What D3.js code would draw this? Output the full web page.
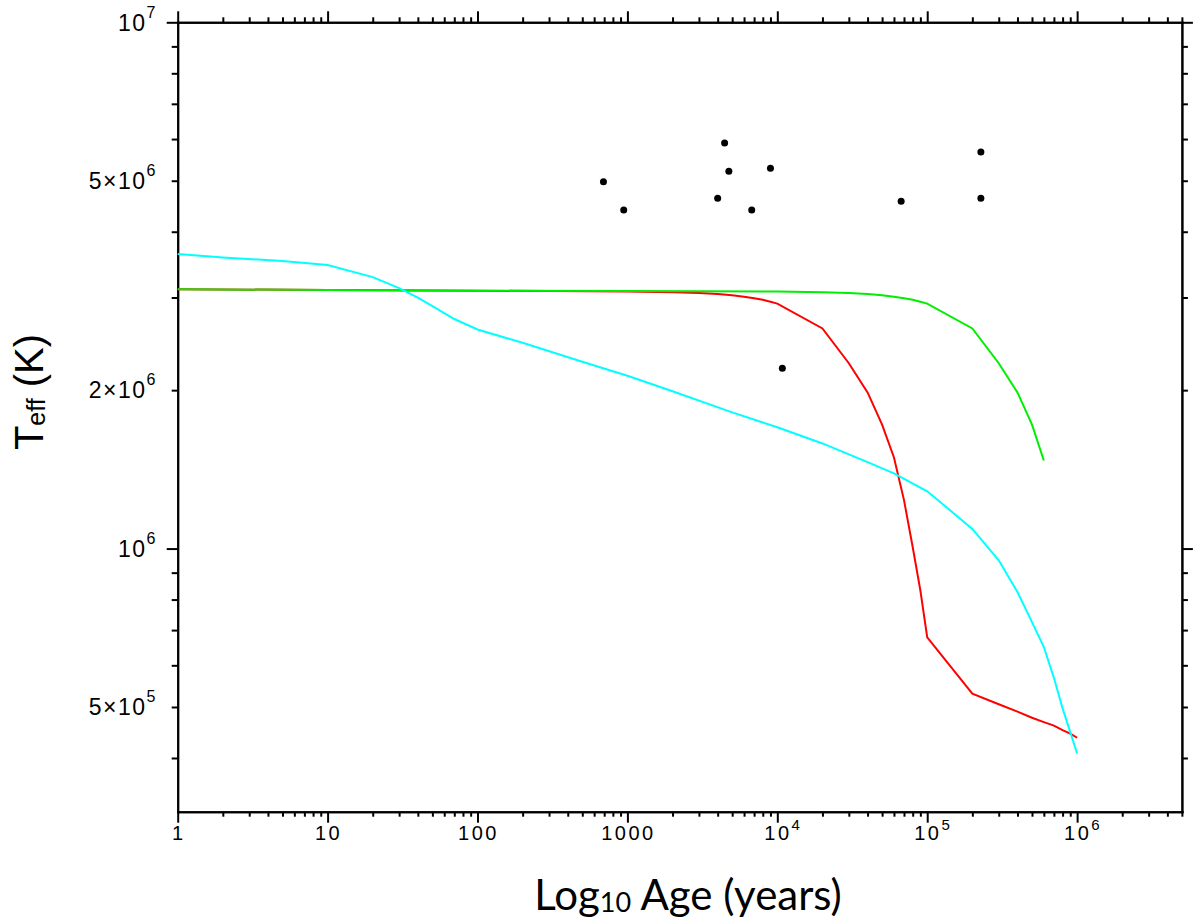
<!DOCTYPE html>
<html>
<head>
<meta charset="utf-8">
<script src="https://cdn.jsdelivr.net/npm/d3@7"></script>
<style>
  body { margin: 0; background: #fff; }
  svg { display: block; }
  .tick-label { font-family: "Liberation Sans", Arial, sans-serif; fill: #000; }
</style>
</head>
<body>
<div id="chart"></div>
<script>
// model curves (age in years, Teff in K)
const redAge  = [1, 10, 100, 1000, 2000, 3000, 4000, 5000, 6000, 7000, 8000, 9000, 1e4,
                 2e4, 3e4, 4e4, 5e4, 6e4, 7e4, 8e4, 9e4, 1e5, 2e5, 3e5, 4e5, 5e5, 6e5, 7e5, 8e5, 9e5, 1e6];
const redTeff = [3.11e6, 3.10e6, 3.09e6, 3.08e6, 3.07e6, 3.06e6, 3.045e6, 3.03e6, 3.01e6, 2.99e6, 2.97e6, 2.945e6, 2.92e6,
                 2.62e6, 2.25e6, 1.98e6, 1.72e6, 1.49e6, 1.236e6, 1.007e6, 8.33e5, 6.78e5, 5.30e5, 5.06e5, 4.90e5, 4.77e5, 4.68e5, 4.61e5, 4.52e5, 4.45e5, 4.37e5];

const greenAge  = [1, 10, 100, 1000, 1e4, 2e4, 3e4, 4e4, 5e4, 6e4, 7e4, 8e4, 9e4, 1e5, 2e5, 3e5, 4e5, 5e5, 6e5];
const greenTeff = [3.11e6, 3.10e6, 3.09e6, 3.085e6, 3.08e6, 3.07e6, 3.06e6, 3.045e6, 3.03e6, 3.01e6, 2.99e6, 2.97e6, 2.945e6,
                   2.92e6, 2.62e6, 2.25e6, 1.98e6, 1.72e6, 1.47e6];

const cyanAge  = [1, 2, 5, 10, 20, 30, 40, 50, 70, 100, 200, 500, 1000, 2000, 5000, 1e4, 2e4, 4e4, 6e4,
                  1e5, 2e5, 3e5, 4e5, 5e5, 6e5, 7e5, 8e5, 9e5, 1e6];
const cyanTeff = [3.63e6, 3.574e6, 3.52e6, 3.458e6, 3.28e6, 3.125e6, 2.997e6, 2.89e6, 2.73e6, 2.608e6, 2.46e6, 2.265e6, 2.13e6,
                  1.99e6, 1.815e6, 1.70e6, 1.584e6, 1.46e6, 1.39e6, 1.285e6, 1.09e6, 9.50e5, 8.27e5, 7.25e5, 6.50e5, 5.68e5, 4.97e5, 4.48e5, 4.08e5];

// observed objects
const obsAge  = [692, 945, 4450, 4750, 9000, 4000, 6750, 67000, 2.28e5, 2.28e5, 1.08e4];
const obsTeff = [4.98e6, 4.40e6, 5.90e6, 5.21e6, 5.28e6, 4.63e6, 4.40e6, 4.57e6, 5.67e6, 4.63e6, 2.20e6];

// tick labels
const xTickValues = [1, 10, 100, 1000, 1e4, 1e5, 1e6];
const xTickLabels = ["1", "10", "100", "1000", "10^4", "10^5", "10^6"];
const yTickValues = [5e5, 1e6, 2e6, 5e6, 1e7];
const yTickLabels = ["5×10^5", "10^6", "2×10^6", "5×10^6", "10^7"];

const width = 1194, height = 922;
const margin = { left: 177.7, right: 1181.9, top: 22.3, bottom: 811.7 };

const svg = d3.select('#chart').append('svg')
    .attr('width', width)
    .attr('height', height);

const x = d3.scaleLog().domain([1, 5e6]).range([margin.left, margin.right]);
const y = d3.scaleLog().domain([Math.pow(10, 5.5), 1e7]).range([margin.bottom, margin.top]);

const xMajor = xTickValues;
const xMinor = x.ticks().filter(v => !xMajor.includes(v));
const yMajor = [1e6, 1e7];
const yMinor = y.ticks().filter(v => !yMajor.includes(v));

function styleAxis(g) {
    g.selectAll('path, line').attr('stroke', '#000').attr('stroke-width', 2);
    g.selectAll('text').remove();
    g.select('.domain').attr('stroke-linecap', 'square');
}

// bottom / top
[[d3.axisBottom, margin.bottom], [d3.axisTop, margin.top]].forEach(([ax, pos]) => {
    svg.append('g').attr('transform', `translate(0,${pos})`)
        .call(ax(x).tickValues(xMajor).tickSize(11).tickSizeOuter(0)).call(styleAxis);
    svg.append('g').attr('transform', `translate(0,${pos})`)
        .call(ax(x).tickValues(xMinor).tickSize(5).tickSizeOuter(0)).call(styleAxis);
});
// left / right
[[d3.axisLeft, margin.left], [d3.axisRight, margin.right]].forEach(([ax, pos]) => {
    svg.append('g').attr('transform', `translate(${pos},0)`)
        .call(ax(y).tickValues(yMajor).tickSize(11).tickSizeOuter(0)).call(styleAxis);
    svg.append('g').attr('transform', `translate(${pos},0)`)
        .call(ax(y).tickValues(yMinor).tickSize(6).tickSizeOuter(0)).call(styleAxis);
});

// labels with superscripts
function addLabel(g, str, supSize, supDy) {
    const parts = str.split('^');
    g.append('tspan').text(parts[0]);
    if (parts[1]) {
        g.append('tspan').style('font-size', supSize + 'px').attr('dy', supDy).text(parts[1]);
    }
}

xTickValues.forEach((v, i) => {
    const t = svg.append('text')
        .attr('class', 'tick-label')
        .attr('x', x(v) + (xTickLabels[i].includes('^') ? 6 : 1))
        .attr('y', 840)
        .attr('text-anchor', 'middle')
        .style('font-size', '20px')
        .style('letter-spacing', '2.5px');
    addLabel(t, xTickLabels[i], 15, -10);
});

yTickValues.forEach((v, i) => {
    const t = svg.append('text')
        .attr('class', 'tick-label')
        .attr('x', 157)
        .attr('y', y(v) + 8.3)
        .attr('text-anchor', 'end')
        .style('font-size', '23px')
        .style('letter-spacing', '1.5px');
    addLabel(t, yTickLabels[i], 16, -13);
});

// axis titles
const xt = svg.append('text')
    .attr('x', 688).attr('y', 910)
    .attr('text-anchor', 'middle')
    .style('font-family', 'Lato, "Open Sans", sans-serif')
    .style('font-size', '42px');
xt.append('tspan').text('Log');
xt.append('tspan').style('font-size', '27px').attr('dy', 2).text('10');
xt.append('tspan').attr('dy', -2).text(' Age (years)');

const yt = svg.append('text')
    .attr('transform', 'translate(43,392) rotate(-90)')
    .attr('text-anchor', 'middle')
    .style('font-family', '"Liberation Sans", Arial, sans-serif')
    .style('font-size', '40px');
yt.append('tspan').text('T');
yt.append('tspan').style('font-size', '25px').attr('dy', 2).text('eff');
yt.append('tspan').attr('dy', -2).text(' (K)');

// curves
const line = d3.line().x(d => x(d[0])).y(d => y(d[1]));
const curves = [
    { age: redAge, teff: redTeff, color: '#ff0000' },
    { age: greenAge, teff: greenTeff, color: '#00ee00' },
    { age: cyanAge, teff: cyanTeff, color: '#00ffff' }
];
curves.forEach(c => {
    svg.append('path')
        .datum(d3.zip(c.age, c.teff))
        .attr('d', line)
        .attr('fill', 'none')
        .attr('stroke', c.color)
        .attr('stroke-width', 2);
});

// observed points
svg.append('g')
    .selectAll('circle')
    .data(d3.zip(obsAge, obsTeff))
    .join('circle')
    .attr('cx', d => x(d[0]))
    .attr('cy', d => y(d[1]))
    .attr('r', 3.5)
    .attr('fill', '#000');
</script>
</body>
</html>
